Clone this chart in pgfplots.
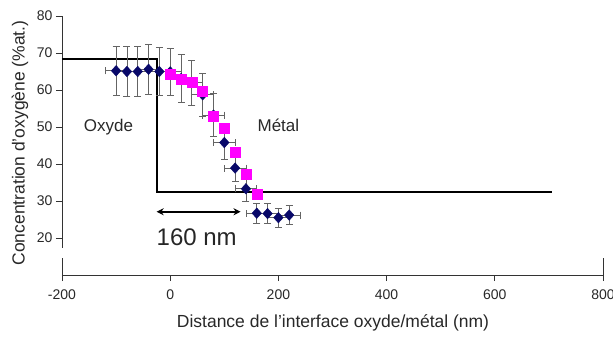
\documentclass[border=0pt]{standalone}
\usepackage{pgfplots}
\pgfplotsset{compat=1.18}
\usepackage{fontspec}
\setmainfont{Liberation Sans}
\usetikzlibrary{arrows.meta}
\definecolor{navy}{RGB}{8,8,105}
\definecolor{mag}{RGB}{255,0,255}
\definecolor{txt}{RGB}{40,40,40}
\definecolor{errc}{RGB}{100,100,100}
\begin{document}
\begin{tikzpicture}
\begin{axis}[
  scale only axis,
  width=541pt, height=259pt,
  xmin=-200, xmax=800, ymin=10, ymax=80,
  clip=false,
  axis x line*=bottom,
  axis y line*=left,
  y axis line style={draw=none},
  x axis line style={line width=0.8pt, draw=black!80},
  xtick={-200,0,200,400,600,800},
  xticklabels={-200,0,200,400,600,800},
  ytick={20,30,40,50,60,70,80},
  tick align=outside,
  major tick length=6pt,
  tick style={line width=0.8pt, draw=black!80},
  /pgf/number format/assume math mode=true,
  tick label style={font=\fontsize{14}{16}\selectfont, text=txt},
  x tick label style={yshift=-5pt},
]
% axis line of y (offset style)
\draw[line width=0.8pt, draw=black!80] (axis cs:-200,17.3) -- (axis cs:-200,80);
\draw[line width=0.8pt, draw=black!80] (axis cs:-200,10) -- (axis cs:-200,14.6);
\draw[line width=0.8pt, draw=black!80] (axis cs:800,10) -- (axis cs:800,14.6);
\coordinate (O) at (axis cs:-200,10);

% step line
\addplot[black, line width=1.7pt, mark=none] coordinates {
  (-200,68.3) (-25,68.3) (-25,32.5) (705,32.5)
};

% measured data
\addplot[navy, only marks, mark=diamond*, mark size=5.3pt,
  mark options={fill=navy, draw=navy, xscale=1.2},
  error bars/.cd,
    x dir=both, x explicit,
    y dir=both, y explicit,
    error bar style={errc, line width=0.8pt},
    error mark options={rotate=90, errc, mark size=3.5pt, line width=0.8pt},
] table[x=x, y=y, x error=ex, y error=ey] {
x    y     ex  ey
-100 65.2  20  6.7
-80  65.0  20  6.7
-60  65.0  20  6.7
-40  65.6  20  6.7
-20  65.0  20  6.5
0    64.9  20  6.4
20   63.1  20  6.4
40   62.0  20  6.1
60   58.7  20  5.9
80   53.2  20  5.8
100  45.8  20  4.5
120  38.9  20  3.7
140  33.3  20  3.3
160  26.7  20  2.7
180  26.6  20  2.7
200  25.5  20  2.6
220  26.2  20  2.5
};

% model
\addplot[mag, only marks, mark=square*, mark size=5pt,
  mark options={fill=mag, draw=mag}] coordinates {
  (0,64.2) (20,63.0) (40,62.0) (60,59.7) (80,53.0)
  (100,49.6) (120,43.1) (140,37.3) (160,31.8)
};

% arrow
\addplot[black, line width=1.7pt, mark=none,
  {Stealth[length=7pt,width=7pt]}-{Stealth[length=7pt,width=7pt]}]
  coordinates {(-25,27.1) (130,27.1)};

\node[font=\fontsize{17}{19}\selectfont, text=txt] at (axis cs:-114,50) {Oxyde};
\node[font=\fontsize{17}{19}\selectfont, text=txt] at (axis cs:200,50.5) {Métal};
\node[font=\fontsize{24}{26}\selectfont, text=black!85] at (axis cs:49,20.2) {160 nm};
\end{axis}
\node[rotate=90, font=\fontsize{17.5}{19}\selectfont, text=txt] at ([shift={(-42pt,132pt)}]O) {Concentration d'oxygène (\%at.)};
\node[font=\fontsize{17.5}{19}\selectfont, text=txt] at ([shift={(271pt,-48pt)}]O) {Distance de l'interface oxyde/métal (nm)};
\pgfresetboundingbox
\path[use as bounding box] ([shift={(-62pt,-63pt)}]O) rectangle ([shift={(551pt,275pt)}]O);
\end{tikzpicture}
\end{document}
